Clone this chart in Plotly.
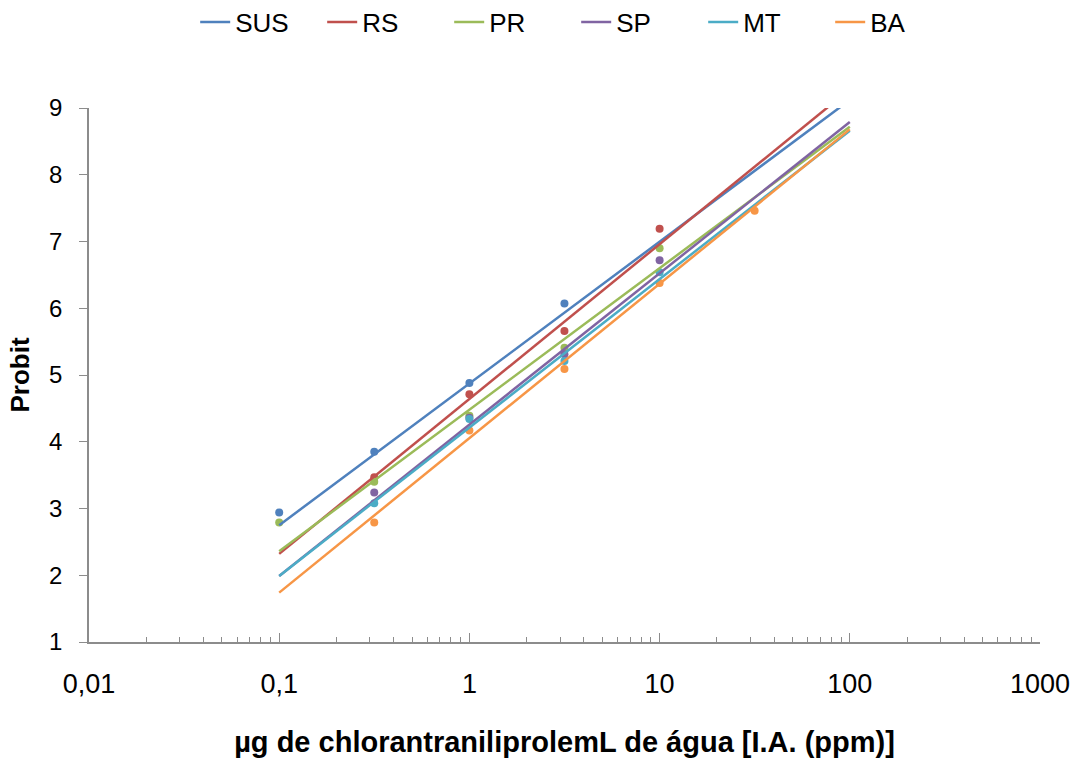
import plotly.graph_objects as go

# ---- data ----
series_names = ["SUS", "RS", "PR", "SP", "MT", "BA"]
doses = [0.1, 0.316, 1, 3.16, 10, 31.6]
sus_probit = [2.94, 3.85, 4.88, 6.07, None, None]
rs_probit = [None, 3.47, 4.71, 5.66, 7.19, None]
pr_probit = [2.79, 3.40, 4.39, 5.41, 6.90, None]
sp_probit = [None, 3.24, 4.36, 5.31, 6.72, None]
mt_probit = [None, 3.08, 4.34, 5.21, 6.54, None]
ba_probit = [None, 2.79, 4.17, 5.09, 6.38, 7.46]

trend_x = [0.1, 100]
sus_trend = [2.75, 9.12]
rs_trend = [2.32, 9.28]
pr_trend = [2.36, 8.72]
sp_trend = [1.99, 8.79]
mt_trend = [1.99, 8.66]
ba_trend = [1.74, 8.68]

x_tickvals = [0.01, 0.1, 1, 10, 100, 1000]
x_ticktext = ["0,01", "0,1", "1", "10", "100", "1000"]
y_tickvals = [1, 2, 3, 4, 5, 6, 7, 8, 9]

colors = ["#4F81BD", "#C0504D", "#9BBB59", "#8064A2", "#4BACC6", "#F79646"]
points = [sus_probit, rs_probit, pr_probit, sp_probit, mt_probit, ba_probit]
trends = [sus_trend, rs_trend, pr_trend, sp_trend, mt_trend, ba_trend]

FONT = "Liberation Sans, Arial, sans-serif"

fig = go.Figure()
for name, c, pts in zip(series_names, colors, points):
    fig.add_trace(go.Scatter(x=doses, y=pts, mode="markers", name=name,
                             marker=dict(color=c, size=8), showlegend=False,
                             cliponaxis=True))
for name, c, tr in zip(series_names, colors, trends):
    fig.add_trace(go.Scatter(x=trend_x, y=tr, mode="lines", name=name,
                             line=dict(color=c, width=2.5), showlegend=True))

axis_color = "#8C8C8C"
fig.update_layout(
    width=1079, height=758,
    margin=dict(l=89, r=39, t=108, b=116, autoexpand=False),
    paper_bgcolor="white", plot_bgcolor="white",
    font=dict(family=FONT, size=24, color="black"),
    legend=dict(orientation="h", xref="container", x=0.534, xanchor="center",
                yref="container", y=0.971, yanchor="middle",
                font=dict(size=26), entrywidth=82, entrywidthmode="pixels",
                itemwidth=30),
    xaxis=dict(type="log", range=[-2, 3], tickvals=x_tickvals, ticktext=x_ticktext,
               ticks="inside", ticklen=9, tickcolor=axis_color, showline=True,
               linecolor=axis_color, linewidth=1.5, showgrid=False, zeroline=False,
               tickfont=dict(size=27), ticklabelstandoff=17,
               minor=dict(ticks="inside", ticklen=5, tickcolor=axis_color, dtick="D1", showgrid=False),
               title=dict(text="µg de chlorantraniliprolemL de água [I.A. (ppm)]",
                          font=dict(size=29, family=FONT, weight="bold"), standoff=34)),
    yaxis=dict(range=[1, 9], tickvals=y_tickvals, ticks="outside", ticklen=8,
               tickcolor=axis_color, showline=True, linecolor=axis_color, linewidth=1.5,
               showgrid=False, zeroline=False, tickfont=dict(size=24), ticklabelstandoff=12,
               title=dict(text="Probit", font=dict(size=26, family=FONT, weight="bold"), standoff=12)),
)

fig.write_html("out.html")
